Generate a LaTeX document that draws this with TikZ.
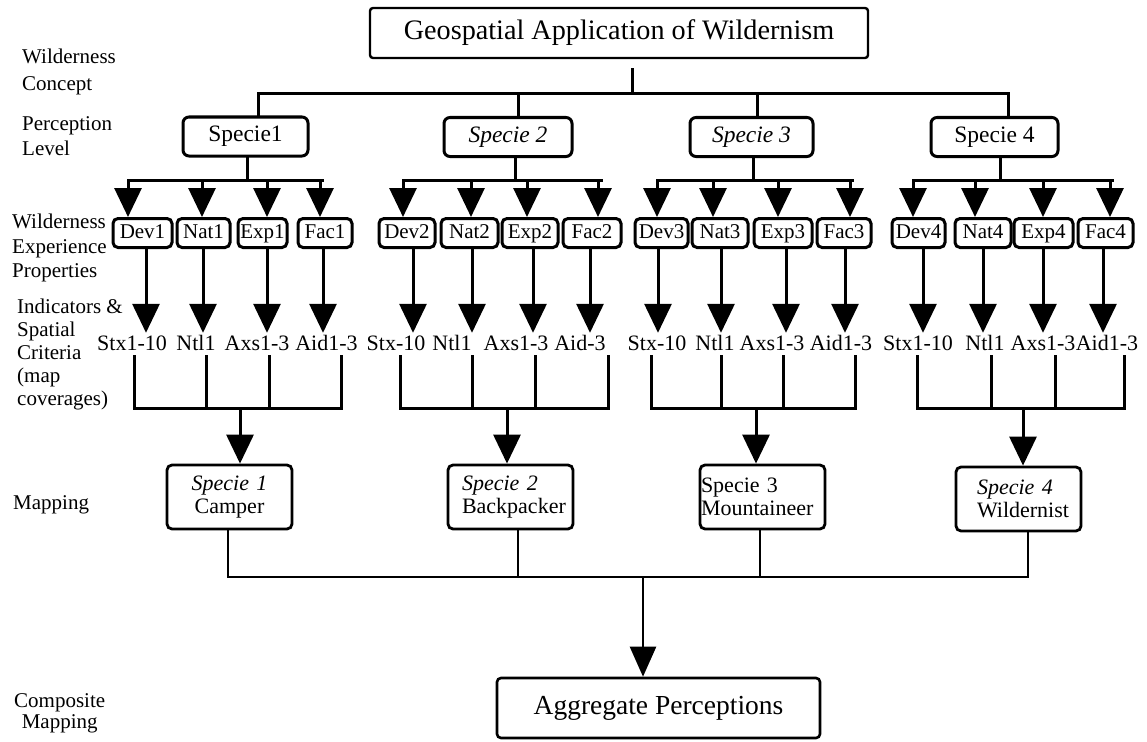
\documentclass[tikz,border=0pt]{standalone}
\usepackage{fontspec}
\setmainfont{Liberation Serif}
\usetikzlibrary{arrows.meta}
\begin{document}
\begin{tikzpicture}[x=1pt,y=-1pt,
 ln/.style={line width=3pt, line cap=rect},
 thin/.style={line width=2.4pt, line cap=rect},
 arr/.style={line width=3pt,-{Triangle[width=27pt,length=29pt]}},
 arrthin/.style={line width=2.4pt,-{Triangle[width=26pt,length=30pt]}},
 lab/.style={font=\fontsize{21}{24}\selectfont, align=left, inner sep=0pt, anchor=west},
 titlebox/.style={draw, line width=2.4pt, rounded corners=3pt, minimum height=50pt, minimum width=498pt, font=\fontsize{28.2}{30}\selectfont},
 pbox/.style={draw, line width=3pt, rounded corners=6pt, minimum height=39pt, font=\fontsize{23.5}{26}\selectfont, inner sep=0pt},
 ebox/.style={draw, line width=3pt, rounded corners=5pt, minimum height=29pt, text height=15pt, text depth=5pt, font=\fontsize{21}{24}\selectfont, inner sep=0pt},
 ind/.style={font=\fontsize{22}{24}\selectfont, anchor=base, text height=15pt, text depth=4pt, inner xsep=0pt, inner ysep=2pt},
 mbox/.style={draw, line width=2.8pt, rounded corners=5pt, minimum height=64pt, minimum width=125pt, font=\fontsize{22}{23}\selectfont, align=left, inner ysep=0pt},
 aggbox/.style={draw, line width=2.6pt, rounded corners=4pt, minimum height=60pt, minimum width=323pt, font=\fontsize{27.5}{30}\selectfont},
 ]
\useasboundingbox (0,0) rectangle (1147,741);

% left labels
\node[lab, font=\fontsize{21}{27}\selectfont] (l1) at (22,72) {Wilderness\\Concept};
\node[lab, font=\fontsize{21}{25}\selectfont] (l2) at (22,136) {Perception\\Level};
\node[lab, font=\fontsize{21}{24.5}\selectfont] (l3) at (12,248) {Wilderness\\Experience\\Properties};
\node[lab, font=\fontsize{21}{23}\selectfont] (l4) at (17,354) {Indicators \&\\Spatial\\Criteria\\(map\\coverages)};
\node[lab] (l5) at (13,505) {Mapping};
\node[lab, align=center, font=\fontsize{21}{21}\selectfont] (l6) at (14,713) {Composite\\Mapping};

% title
\node[titlebox] (title) at (619,33) {Geospatial Application of Wildernism};

% perception level
\node[pbox, minimum width=125pt] (p1) at (245.5,136.5) {Specie1};
\node[pbox, minimum width=128pt] (p2) at (508,137) {\itshape Specie 2};
\node[pbox, minimum width=123pt] (p3) at (751.5,137) {\itshape Specie 3};
\node[pbox, minimum width=127pt] (p4) at (994.5,137) {Specie 4};

% experience properties
\node[ebox, minimum width=59pt] (d1) at (142.5,233) {Dev1};
\node[ebox, minimum width=53pt] (n1) at (203.5,233) {Nat1};
\node[ebox, minimum width=49pt] (e1) at (262.5,233) {Exp1};
\node[ebox, minimum width=54pt] (f1) at (325,233) {Fac1};
\node[ebox, minimum width=56pt] (d2) at (407,233) {Dev2};
\node[ebox, minimum width=57pt] (n2) at (469.5,233) {Nat2};
\node[ebox, minimum width=56pt] (e2) at (530,233) {Exp2};
\node[ebox, minimum width=58pt] (f2) at (592,233) {Fac2};
\node[ebox, minimum width=53pt] (d3) at (661.5,233) {Dev3};
\node[ebox, minimum width=56pt] (n3) at (720,233) {Nat3};
\node[ebox, minimum width=58pt] (e3) at (783,233) {Exp3};
\node[ebox, minimum width=54pt] (f3) at (844,233) {Fac3};
\node[ebox, minimum width=53pt] (d4) at (918.5,233) {Dev4};
\node[ebox, minimum width=56pt] (n4) at (983,233) {Nat4};
\node[ebox, minimum width=59pt] (e4) at (1043.5,233) {Exp4};
\node[ebox, minimum width=55pt] (f4) at (1105.5,233) {Fac4};

% indicators
\node[ind] (s11) at (132,350) {Stx1-10};
\node[ind] (s12) at (196,350) {Ntl1};
\node[ind] (s13) at (257,350) {Axs1-3};
\node[ind] (s14) at (326.5,350) {Aid1-3};
\node[ind] (s21) at (396,350) {Stx-10};
\node[ind] (s22) at (452,350) {Ntl1};
\node[ind] (s23) at (516,350) {Axs1-3};
\node[ind] (s24) at (580,350) {Aid-3};
\node[ind] (s31) at (657,350) {Stx-10};
\node[ind] (s32) at (715,350) {Ntl1};
\node[ind] (s33) at (772,350) {Axs1-3};
\node[ind] (s34) at (841,350) {Aid1-3};
\node[ind] (s41) at (918,350) {Stx1-10};
\node[ind] (s42) at (985,350) {Ntl1};
\node[ind] (s43) at (1043,350) {Axs1-3};
\node[ind] (s44) at (1107,350) {Aid1-3};

% mapping boxes
\node[mbox, text width=121pt, align=center, inner xsep=2pt] (m1) at (229.5,497) {{\itshape Specie 1}\\Camper};
\node[mbox, text width=97pt, inner xsep=14pt] (m2) at (510.5,497) {{\itshape Specie 2}\\Backpacker};
\node[mbox, text width=123pt, inner xsep=1pt] (m3) at (762.5,497) {Specie 3\\Mountaineer};
\node[mbox, text width=83pt, inner xsep=21pt] (m4) at (1018.5,499) {{\itshape Specie 4}\\Wildernist};

% aggregate
\node[aggbox] (agg) at (658.5,708) {Aggregate Perceptions};

% top connectors
\coordinate (t0) at (632,70);
\coordinate (b1) at (258,94);
\coordinate (b2) at (518,94);
\coordinate (b3) at (757,94);
\coordinate (b4) at (1008,94);
\draw[ln] (t0) -- (t0 |- b1);
\draw[ln] (p1.north -| b1) -- (b1) -- (b4) -- (p4.north -| b4);
\draw[ln] (b2) -- (p2.north -| b2);
\draw[ln] (b3) -- (p3.north -| b3);

% perception -> experience
\foreach \p/\h/\l/\r in {p1/247/128/322, p2/515/403/601, p3/753/657/852, p4/1000/913/1112}{
  \draw[ln] (\h,0 |- \p.south) -- (\h,180);
  \draw[ln] (\l,180) -- (\r,180);
}
\foreach \n/\x in {d1/128,n1/202,e1/267,f1/320,d2/403,n2/471,e2/527,f2/598,d3/657,n3/713,e3/778,f3/850,d4/913,n4/975,e4/1043,f4/1110}{
  \draw[arr] (\x,180) -- (\x,0 |- \n.north);
}

% experience -> indicators
\foreach \n/\s/\x in {d1/s11/146,n1/s12/203,e1/s13/267,f1/s14/323,d2/s21/413,n2/s22/472,e2/s23/533,f2/s24/590,d3/s31/658,n3/s32/721,e3/s33/786,f3/s34/845,d4/s41/923,n4/s42/983,e4/s43/1043,f4/s44/1103}{
  \draw[arr] (\x,0 |- \n.south) -- (\x,0 |- \s.north);
}

% indicators -> bars
\foreach \s/\x in {s11/134,s12/206,s13/269,s14/341,s21/400,s22/472,s23/535,s24/608,s31/651,s32/721,s33/783,s34/855,s41/917,s42/991,s43/1055,s44/1124}{
  \draw[ln] (\x,0 |- \s.south) -- (\x,408);
}
\foreach \l/\r/\c/\m in {134/341/240/m1, 400/608/507/m2, 651/855/756/m3, 917/1124/1023/m4}{
  \draw[ln] (\l,408) -- (\r,408);
  \draw[arr] (\c,408) -- (\c,0 |- \m.north);
}

% mapping -> aggregate
\foreach \m/\x in {m1/228,m2/518,m3/760,m4/1028}{
  \draw[thin] (\x,0 |- \m.south) -- (\x,577);
}
\draw[thin] (228,577) -- (1028,577);
\coordinate (ag) at (643,577);
\draw[arrthin] (ag) -- (ag |- agg.north);
\end{tikzpicture}
\end{document}
